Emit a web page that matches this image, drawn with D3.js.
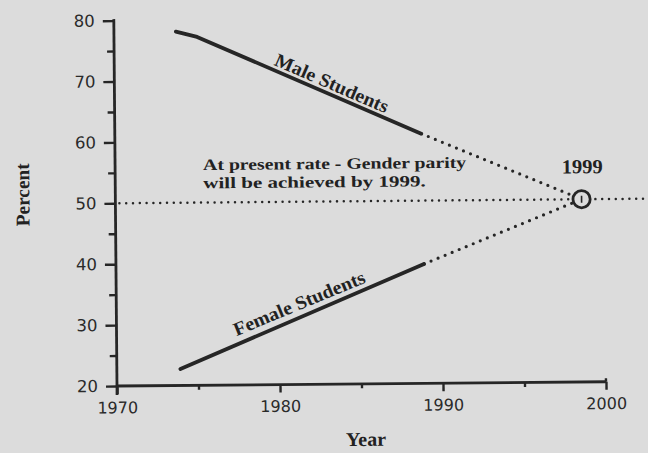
<!DOCTYPE html>
<html><head><meta charset="utf-8">
<script src="https://cdn.jsdelivr.net/npm/d3@7"></script>
<style>html,body{margin:0;padding:0;background:#dcdcdc;} svg{display:block;}</style>
</head><body>
<svg id="chart" width="648" height="453"></svg>
<script>
// ---- data ----
const xTickYears = [1970, 1980, 1990, 2000];
const xMinorYears = [1975, 1985, 1995];
const yTickValues = [20, 30, 40, 50, 60, 70, 80];
const yMinorValues = [25, 35, 45, 55, 65, 75];
const maleYears = [1973.8, 1975.1, 1988.8];
const maleValues = [78.1, 77.2, 61.0];
const femaleYears = [1973.9, 1988.9];
const femaleValues = [22.7, 39.6];
const parityYear = 1998.6;
const parityValue = 50;
const parityLabel = "1999";
const seriesLabels = ["Male Students", "Female Students"];
const noteLines = ["At present rate - Gender parity", "will be achieved by 1999."];
const xTitle = "Year";
const yTitle = "Percent";

// ---- drawing ----
const W = 648, H = 453;
const ink = '#262626';
const bg = '#dcdcdc';
const x = d3.scaleLinear().domain([1970, 2000]).range([117, 606]);
const y = d3.scaleLinear().domain([20, 80]).range([386, 20.6]);
const svg = d3.select('#chart');
svg.append('rect').attr('width', W).attr('height', H).attr('fill', bg);
const g = svg.append('g').attr('transform', `rotate(-0.5, ${x(1970)}, ${y(20)})`);

function styleAxis(sel, fs) {
  sel.select('.domain').remove();
  sel.selectAll('line').attr('stroke', ink).attr('stroke-width', 2.4);
  sel.selectAll('text').attr('font-family', 'DejaVu Sans').attr('font-size', fs).attr('fill', '#2a2a2a');
}
const fmt = d3.format('d');

// y axis
const gy = g.append('g').attr('transform', `translate(${x(1970)},0)`)
  .call(d3.axisLeft(y).tickValues(yTickValues).tickFormat(fmt).tickSize(11).tickPadding(8).tickSizeOuter(0));
styleAxis(gy, 16.5);
const gym = g.append('g').attr('transform', `translate(${x(1970)},0)`)
  .call(d3.axisLeft(y).tickValues(yMinorValues).tickSize(7).tickFormat('').tickSizeOuter(0));
styleAxis(gym, 16);

// x axis
const gx = g.append('g').attr('transform', `translate(0,${y(20)})`)
  .call(d3.axisBottom(x).tickValues(xTickYears).tickFormat(fmt).tickSize(8).tickPadding(8).tickSizeOuter(0));
styleAxis(gx, 16);
const gxm = g.append('g').attr('transform', `translate(0,${y(20)})`)
  .call(d3.axisBottom(x).tickValues(xMinorYears).tickSize(4.5).tickFormat('').tickSizeOuter(0));
styleAxis(gxm, 16);

// axis lines
g.append('line').attr('x1', x(1970)).attr('x2', x(1970)).attr('y1', y(80) - 1.5).attr('y2', y(20) + 9)
  .attr('stroke', ink).attr('stroke-width', 2.8);
g.append('line').attr('x1', x(1970)).attr('x2', x(2000)).attr('y1', y(20)).attr('y2', y(20))
  .attr('stroke', ink).attr('stroke-width', 2.8);
g.append('line').attr('x1', x(2000)).attr('x2', x(2000)).attr('y1', y(20) - 3.5).attr('y2', y(20))
  .attr('stroke', ink).attr('stroke-width', 2.4);

// reference 50% dotted line
g.append('line').attr('x1', x(1970) + 4).attr('x2', W + 20).attr('y1', y(parityValue)).attr('y2', y(parityValue))
  .attr('stroke', ink).attr('stroke-width', 2.5).attr('stroke-linecap', 'round')
  .attr('stroke-dasharray', '0 6.8');

// series
const line = d3.line().x(d => x(d[0])).y(d => y(d[1]));
const male = maleYears.map((yr, i) => [yr, maleValues[i]]);
const female = femaleYears.map((yr, i) => [yr, femaleValues[i]]);
[male, female].forEach(s => {
  g.append('path').attr('d', line(s)).attr('fill', 'none').attr('stroke', ink)
    .attr('stroke-width', 3.8).attr('stroke-linecap', 'round').attr('stroke-linejoin', 'round');
  const last = s[s.length - 1];
  g.append('path').attr('d', line([last, [parityYear, parityValue]])).attr('fill', 'none')
    .attr('stroke', ink).attr('stroke-width', 3.2).attr('stroke-linecap', 'round')
    .attr('stroke-dasharray', '0 7.6');
});

// parity circle
const cx = x(parityYear), cy = y(parityValue);
g.append('circle').attr('cx', cx).attr('cy', cy).attr('r', 8.6)
  .attr('fill', bg).attr('stroke', ink).attr('stroke-width', 2.8);
g.append('line').attr('x1', cx).attr('x2', cx).attr('y1', cy - 3.5).attr('y2', cy + 3.5)
  .attr('stroke', ink).attr('stroke-width', 1.6);
g.append('text').attr('x', cx + 1).attr('y', cy - 26).attr('text-anchor', 'middle')
  .attr('font-family', 'Liberation Serif').attr('font-weight', 'bold').attr('font-size', 20)
  .attr('fill', '#222').attr('textLength', 41).attr('lengthAdjust', 'spacingAndGlyphs').text(parityLabel);

// note
const serif = t => t.attr('font-family', 'Liberation Serif').attr('font-weight', 'bold').attr('fill', '#222');
noteLines.forEach((t, i) => {
  g.append('text').attr('x', 205).attr('y', 170.8 + i * 18.3).attr('font-size', 15.8)
    .attr('textLength', i === 0 ? 263 : 222.5).attr('lengthAdjust', 'spacingAndGlyphs')
    .call(serif).text(t);
});

// series labels
g.append('text').attr('transform', 'translate(334.6,84.9) rotate(24)').attr('text-anchor', 'middle')
  .attr('dy', '0.35em').attr('font-size', 19).attr('textLength', 122).attr('lengthAdjust', 'spacingAndGlyphs')
  .call(serif).text(seriesLabels[0]);
g.append('text').attr('transform', 'translate(299.7,304.6) rotate(-22)').attr('text-anchor', 'middle')
  .attr('dy', '0.35em').attr('font-size', 19).attr('textLength', 141).attr('lengthAdjust', 'spacingAndGlyphs')
  .call(serif).text(seriesLabels[1]);

// axis titles
g.append('text').attr('transform', 'translate(31,194) rotate(-90)').attr('text-anchor', 'middle')
  .attr('font-size', 19.5).attr('textLength', 63).attr('lengthAdjust', 'spacingAndGlyphs')
  .call(serif).text(yTitle);
g.append('text').attr('x', 365.5).attr('y', 448).attr('text-anchor', 'middle')
  .attr('font-size', 19.5).attr('textLength', 40).attr('lengthAdjust', 'spacingAndGlyphs')
  .call(serif).text(xTitle);
</script>
</body></html>
